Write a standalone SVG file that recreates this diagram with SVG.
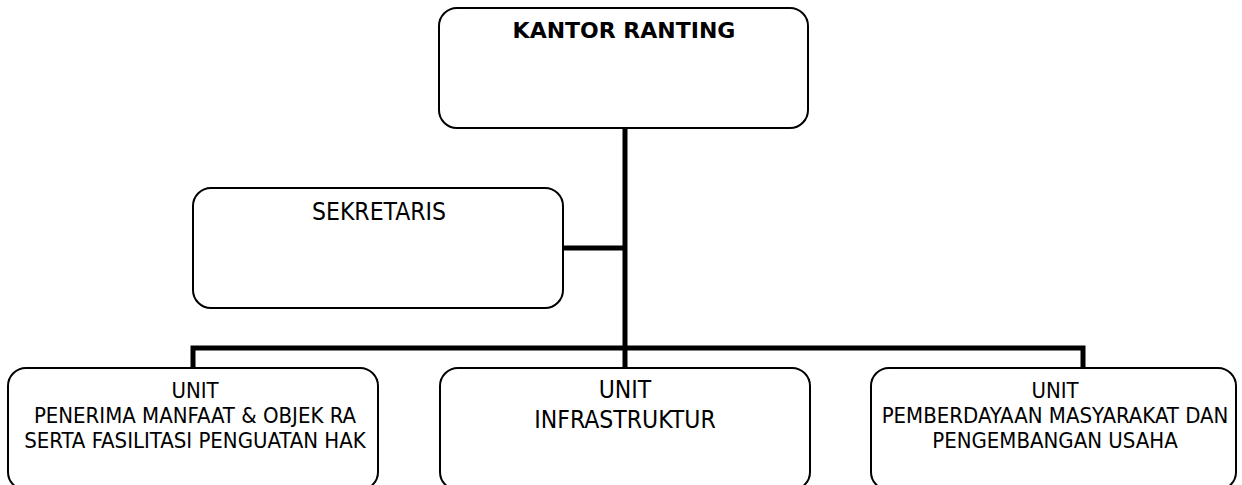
<svg xmlns="http://www.w3.org/2000/svg" width="1242" height="485" viewBox="0 0 1242 485">
<style>
.box{fill:#fff;stroke:#000;stroke-width:2}
.t{font-family:"DejaVu Sans Condensed","DejaVu Sans",sans-serif;font-size:22px;fill:#000;text-anchor:middle}
.l{font-size:24.5px}
.b{font-family:"DejaVu Sans",sans-serif;font-weight:bold;font-size:22px}
.c{stroke:#000;stroke-width:5;fill:none}
</style>
<rect width="1242" height="485" fill="#fff"/>
<g id="connectors">
<line class="c" x1="625" y1="128" x2="625" y2="370"/>
<line class="c" x1="563" y1="248" x2="625" y2="248"/>
<polyline class="c" points="193,370 193,348 1083,348 1083,370"/>
</g>
<g id="kantor-ranting">
<rect class="box" x="439" y="8" width="369" height="120" rx="18"/>
<text class="t b" x="624" y="38">KANTOR RANTING</text>
</g>
<g id="sekretaris">
<rect class="box" x="193" y="188" width="370" height="120" rx="18"/>
<text class="t l" x="379" y="220">SEKRETARIS</text>
</g>
<g id="unit-penerima">
<rect class="box" x="8" y="368" width="370" height="122" rx="18"/>
<text class="t" x="195" y="398">UNIT</text>
<text class="t" x="195" y="423">PENERIMA MANFAAT &amp; OBJEK RA</text>
<text class="t" x="195" y="448">SERTA FASILITASI PENGUATAN HAK</text>
</g>
<g id="unit-infrastruktur">
<rect class="box" x="440" y="368" width="370" height="122" rx="18"/>
<text class="t l" x="625" y="398">UNIT</text>
<text class="t l" x="625" y="428">INFRASTRUKTUR</text>
</g>
<g id="unit-pemberdayaan">
<rect class="box" x="871" y="368" width="365" height="122" rx="18"/>
<text class="t" x="1055" y="398">UNIT</text>
<text class="t" x="1055" y="423">PEMBERDAYAAN MASYARAKAT DAN</text>
<text class="t" x="1055" y="448">PENGEMBANGAN USAHA</text>
</g>
</svg>
